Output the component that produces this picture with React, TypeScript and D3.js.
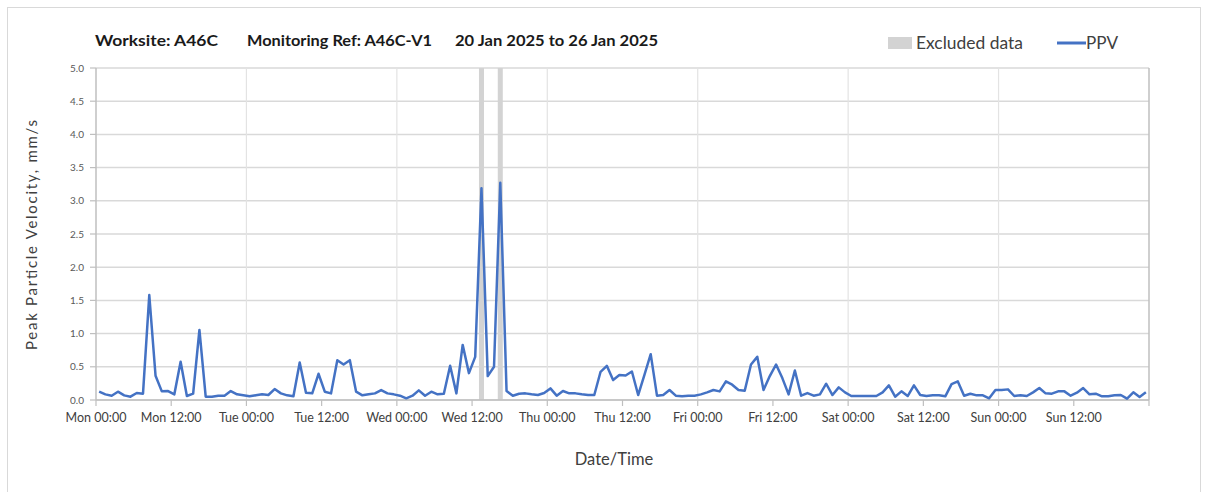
import React from "react";
import * as d3 from "d3";

// Hourly PPV readings (mm/s), Mon 20 Jan 00:30 .. Sun 26 Jan 23:30
const ppvValues: number[] = [
  0.125, 0.085, 0.065, 0.125, 0.07, 0.05, 0.105, 0.095, 1.58, 0.365, 0.13, 0.135,
  0.085, 0.575, 0.06, 0.095, 1.055, 0.05, 0.05, 0.065, 0.065, 0.135, 0.085, 0.07,
  0.055, 0.07, 0.085, 0.075, 0.165, 0.1, 0.07, 0.055, 0.565, 0.11, 0.1, 0.395,
  0.125, 0.1, 0.6, 0.535, 0.6, 0.125, 0.07, 0.085, 0.1, 0.15, 0.1, 0.085,
  0.065, 0.025, 0.065, 0.145, 0.065, 0.125, 0.085, 0.095, 0.515, 0.1, 0.83, 0.405,
  0.65, 3.19, 0.36, 0.5, 3.27, 0.135, 0.065, 0.095, 0.1, 0.085, 0.075, 0.105,
  0.175, 0.065, 0.135, 0.1, 0.1, 0.085, 0.075, 0.075, 0.425, 0.515, 0.3, 0.375,
  0.37, 0.43, 0.075, 0.38, 0.69, 0.065, 0.075, 0.15, 0.065, 0.055, 0.065, 0.065,
  0.085, 0.115, 0.15, 0.13, 0.28, 0.23, 0.15, 0.14, 0.535, 0.65, 0.15, 0.36,
  0.535, 0.33, 0.085, 0.445, 0.065, 0.105, 0.065, 0.085, 0.245, 0.075, 0.19, 0.115,
  0.06, 0.06, 0.06, 0.06, 0.06, 0.115, 0.22, 0.05, 0.13, 0.06, 0.22, 0.075,
  0.06, 0.07, 0.07, 0.055, 0.24, 0.28, 0.065, 0.095, 0.07, 0.07, 0.025, 0.15,
  0.15, 0.16, 0.06, 0.07, 0.06, 0.115, 0.18, 0.1, 0.095, 0.13, 0.13, 0.065,
  0.11, 0.18, 0.085, 0.095, 0.055, 0.055, 0.07, 0.075, 0.02, 0.115, 0.045, 0.115,
];

// Excluded data periods (hours from Mon 00:00)
const excludedStart: number[] = [61.1, 64.1];
const excludedEnd: number[] = [61.9, 64.9];

const xTickHours: number[] = [0, 12, 24, 36, 48, 60, 72, 84, 96, 108, 120, 132, 144, 156];
const xTickLabels: string[] = [
  "Mon 00:00", "Mon 12:00", "Tue 00:00", "Tue 12:00", "Wed 00:00", "Wed 12:00",
  "Thu 00:00", "Thu 12:00", "Fri 00:00", "Fri 12:00", "Sat 00:00", "Sat 12:00",
  "Sun 00:00", "Sun 12:00",
];
const dayGridHours: number[] = [24, 48, 72, 96, 120, 144];
const yTicks: number[] = [0, 0.5, 1, 1.5, 2, 2.5, 3, 3.5, 4, 4.5, 5];

const FONT = "Lato, 'Open Sans', sans-serif";

export default function App() {
  const W = 1208, H = 492;
  const left = 96, right = 1149, top = 68, bottom = 400;
  const x = d3.scaleLinear().domain([0, 168]).range([left, right]);
  const y = d3.scaleLinear().domain([0, 5]).range([bottom, top]);

  const pts: [number, number][] = ppvValues.map((v, i) => [i + 0.5, v]);
  const line = d3
    .line<[number, number]>()
    .x((d) => x(d[0]))
    .y((d) => y(d[1]));

  return (
    <svg width={W} height={H} style={{ display: "block", position: "absolute", left: 0, top: 0 }}>
      <rect x={0} y={0} width={W} height={H} fill="#ffffff" />
      <rect x={7.5} y={7.5} width={1193} height={490} fill="none" stroke="#d9d9d9" strokeWidth={1} />

      {/* horizontal gridlines */}
      {yTicks.map((t) => (
        <line key={"hg" + t} x1={left} x2={right} y1={y(t)} y2={y(t)} stroke="#d9d9d9" strokeWidth={1.5} />
      ))}
      {/* vertical day gridlines */}
      {dayGridHours.map((h) => (
        <line key={"vg" + h} x1={x(h)} x2={x(h)} y1={top} y2={bottom} stroke="#e3e3e3" strokeWidth={1.2} />
      ))}
      {/* right border */}
      <line x1={right} x2={right} y1={top} y2={bottom} stroke="#bfbfbf" strokeWidth={1.5} />

      {/* excluded data */}
      {excludedStart.map((s, i) => (
        <rect key={"ex" + i} x={x(s)} y={top} width={x(excludedEnd[i]) - x(s)} height={bottom - top} fill="#d3d3d3" />
      ))}

      {/* axes */}
      <line x1={left} x2={left} y1={top} y2={bottom} stroke="#bfbfbf" strokeWidth={1.5} />
      <line x1={left} x2={right} y1={bottom} y2={bottom} stroke="#bfbfbf" strokeWidth={1.5} />
      {yTicks.map((t) => (
        <g key={"yt" + t}>
          <line x1={left - 6} x2={left} y1={y(t)} y2={y(t)} stroke="#bfbfbf" strokeWidth={1.2} />
          <text x={left - 12} y={y(t)} dy="0.35em" textAnchor="end" fontSize={10} fill="#595959" fontFamily={FONT}>
            {t.toFixed(1)}
          </text>
        </g>
      ))}
      {xTickHours.map((h, i) => (
        <g key={"xt" + h}>
          <line x1={x(h)} x2={x(h)} y1={bottom} y2={bottom + 6} stroke="#bfbfbf" strokeWidth={1.2} />
          <text x={x(h)} y={bottom + 22} textAnchor="middle" fontSize={12.5} fill="#404040" fontFamily={FONT}>
            {xTickLabels[i]}
          </text>
        </g>
      ))}
      <line x1={right} x2={right} y1={bottom} y2={bottom + 6} stroke="#bfbfbf" strokeWidth={1.2} />

      {/* data line */}
      <path d={line(pts) || ""} fill="none" stroke="#4472c4" strokeWidth={2.5} strokeLinejoin="round" />

      {/* titles */}
      <g fontFamily={FONT} fontWeight="bold" fontSize={16} fill="#1a1a1a">
        <text x={95} y={46} textLength={123} lengthAdjust="spacingAndGlyphs">Worksite: A46C</text>
        <text x={247} y={46} textLength={185} lengthAdjust="spacingAndGlyphs">Monitoring Ref: A46C-V1</text>
        <text x={455} y={46} textLength={203} lengthAdjust="spacingAndGlyphs">20 Jan 2025 to 26 Jan 2025</text>
      </g>

      {/* legend */}
      <rect x={888} y={37} width={24} height={12} fill="#d3d3d3" />
      <text x={916} y={49} fontSize={16.5} fill="#404040" fontFamily={FONT} textLength={107} lengthAdjust="spacingAndGlyphs">Excluded data</text>
      <line x1={1057} x2={1086} y1={43} y2={43} stroke="#4472c4" strokeWidth={3} />
      <text x={1086} y={49} fontSize={16.5} fill="#404040" fontFamily={FONT} textLength={32} lengthAdjust="spacingAndGlyphs">PPV</text>

      {/* axis titles */}
      <text
        transform={`translate(37, ${(top + bottom) / 2 + 1}) rotate(-90)`}
        textAnchor="middle"
        fontSize={15}
        fill="#404040"
        fontFamily={FONT}
        textLength={230}
        lengthAdjust="spacing"
      >
        Peak Particle Velocity, mm/s
      </text>
      <text x={614} y={465} textAnchor="middle" fontSize={16.5} fill="#404040" fontFamily={FONT}>
        Date/Time
      </text>
    </svg>
  );
}
